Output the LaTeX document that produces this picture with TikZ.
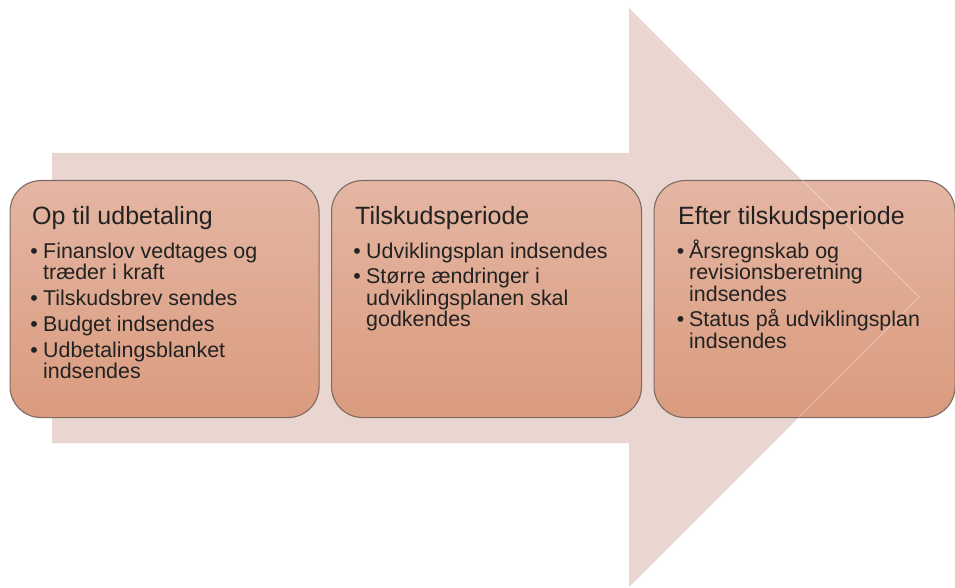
\documentclass[tikz,border=0pt]{standalone}
\usepackage{fontspec}
\setmainfont{Liberation Sans}
\definecolor{arrowc}{HTML}{E9D6D0}
\definecolor{boxtop}{HTML}{E4B6A3}
\definecolor{boxbot}{HTML}{DA9B7E}
\definecolor{boxline}{HTML}{7F6A62}
\definecolor{txt}{HTML}{222222}
\tikzset{
  stagebox/.style={rectangle, rounded corners=31pt, draw=boxline, line width=1.1pt,
    top color=boxtop, bottom color=boxbot, minimum height=237pt, anchor=north west, inner sep=0pt},
  ttl/.style={anchor=base west, inner sep=0pt, text=txt, font=\fontsize{25}{25}\selectfont},
  itm/.style={anchor=base west, inner sep=0pt, text=txt, font=\fontsize{21.4}{21}\selectfont},
  dot/.style={anchor=base, inner sep=0pt, text=txt, font=\fontsize{21.4}{21}\selectfont},
}
\begin{document}
\begin{tikzpicture}[x=1pt, y=-1pt]
\useasboundingbox (0,0) rectangle (955,588);
% big arrow
\fill[arrowc] (52,153) -- (629,153) -- (629,8) -- (919,297) -- (629,587) -- (629,443) -- (52,443) -- cycle;
% boxes
\node[stagebox, minimum width=309pt] (b1) at (9.5,180) {};
\node[stagebox, minimum width=310pt] (b2) at (331,180) {};
\node[stagebox, minimum width=301pt] (b3) at (653.5,180) {};
% faint arrow outline through third box
\draw[white, opacity=0.35, line width=0.8pt] (802,180) -- (919,297) -- (799,417);
% box 1
\node[ttl] (t1) at (32,224) {Op til udbetaling};
\node[dot] (d11) at (34,258) {•};
\node[itm] (l11) at (43,258) {Finanslov vedtages og};
\node[itm] (l12) at (43,279) {træder i kraft};
\node[dot] (d12) at (34,305) {•};
\node[itm] (l13) at (43,305) {Tilskudsbrev sendes};
\node[dot] (d13) at (34,331) {•};
\node[itm] (l14) at (43,331) {Budget indsendes};
\node[dot] (d14) at (34,357) {•};
\node[itm] (l15) at (43,357) {Udbetalingsblanket};
\node[itm] (l16) at (43,378) {indsendes};
% box 2
\node[ttl] (t2) at (355,224) {Tilskudsperiode};
\node[dot] (d21) at (357,258) {•};
\node[itm] (l21) at (366,258) {Udviklingsplan indsendes};
\node[dot] (d22) at (357,283.5) {•};
\node[itm] (l22) at (366,283.5) {Større ændringer i};
\node[itm] (l23) at (366,305) {udviklingsplanen skal};
\node[itm] (l24) at (366,326.5) {godkendes};
% box 3
\node[ttl] (t3) at (678,224) {Efter tilskudsperiode};
\node[dot] (d31) at (680.5,258) {•};
\node[itm] (l31) at (689,258) {Årsregnskab og};
\node[itm] (l32) at (689,279.5) {revisionsberetning};
\node[itm] (l33) at (689,301) {indsendes};
\node[dot] (d32) at (680.5,326.5) {•};
\node[itm] (l34) at (689,326.5) {Status på udviklingsplan};
\node[itm] (l35) at (689,348) {indsendes};
\end{tikzpicture}
\end{document}
